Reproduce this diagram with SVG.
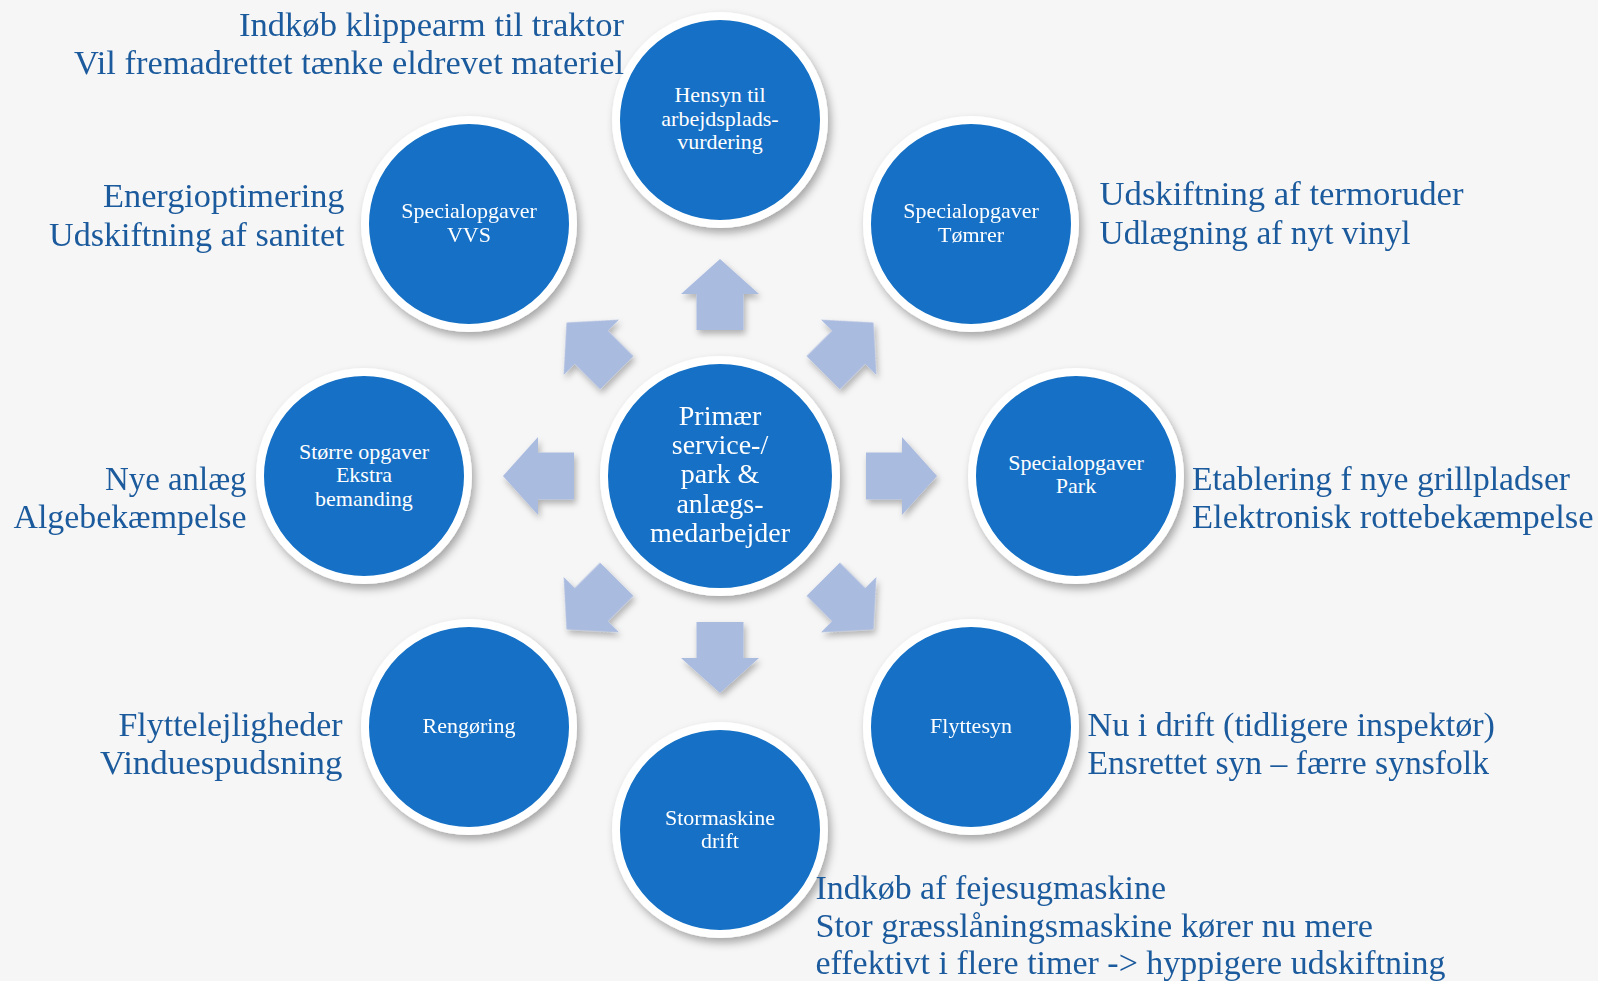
<svg xmlns="http://www.w3.org/2000/svg" width="1598" height="981" viewBox="0 0 1598 981">
  <style>
    .note { font-family: "Liberation Serif", "DejaVu Serif", serif; font-size: 33px; fill: #1B5A9C; }
    .end { text-anchor: end; }
    .lbl { font-family: "Liberation Serif", "DejaVu Serif", serif; font-size: 22px; fill: #FFFFFF; text-anchor: middle; }
    .hub { font-family: "Liberation Serif", "DejaVu Serif", serif; font-size: 28px; fill: #FFFFFF; text-anchor: middle; }
    .disc { fill: #1270C5; stroke: #FFFFFF; stroke-width: 8; }
    .arrow { fill: #AABBE0; }
  </style>
  <defs>
    <filter id="shade" x="-20%" y="-20%" width="150%" height="150%">
      <feDropShadow dx="3" dy="5" stdDeviation="4" flood-color="#000000" flood-opacity="0.32"/>
    </filter>
    <filter id="arrowShade" x="-10%" y="-10%" width="130%" height="130%">
      <feDropShadow dx="2" dy="4" stdDeviation="3" flood-color="#000000" flood-opacity="0.28"/>
    </filter>
    <!-- block arrow pointing up, hub centre at the origin -->
    <path id="blockArrow" d="M0,-217 L39,-182 L23.5,-182 L23.5,-146 L-23.5,-146 L-23.5,-182 L-39,-182 Z"/>
  </defs>

  <rect width="1598" height="981" fill="#F6F6F6"/>

  <!-- radiating arrows around the hub -->
  <g id="connectors" class="arrow" filter="url(#arrowShade)">
    <use href="#blockArrow" transform="translate(720,476)"/>
    <use href="#blockArrow" transform="translate(720,476) rotate(45)"/>
    <use href="#blockArrow" transform="translate(720,476) rotate(90)"/>
    <use href="#blockArrow" transform="translate(720,476) rotate(135)"/>
    <use href="#blockArrow" transform="translate(720,476) rotate(180)"/>
    <use href="#blockArrow" transform="translate(720,476) rotate(225)"/>
    <use href="#blockArrow" transform="translate(720,476) rotate(270)"/>
    <use href="#blockArrow" transform="translate(720,476) rotate(315)"/>
  </g>

  <!-- hub -->
  <g id="hub">
    <circle class="disc" cx="720" cy="476" r="116" filter="url(#shade)"/>
    <text class="hub" x="720" y="425">Primær</text>
    <text class="hub" x="720" y="454">service-/</text>
    <text class="hub" x="720" y="483">park &amp;</text>
    <text class="hub" x="720" y="513">anlægs-</text>
    <text class="hub" x="720" y="542">medarbejder</text>
  </g>

  <g id="node-hensyn">
    <circle class="disc" cx="720" cy="120" r="104" filter="url(#shade)"/>
    <text class="lbl" x="720" y="102">Hensyn til</text>
    <text class="lbl" x="720" y="125.5">arbejdsplads-</text>
    <text class="lbl" x="720" y="149">vurdering</text>
  </g>

  <g id="node-vvs">
    <circle class="disc" cx="469" cy="224" r="104" filter="url(#shade)"/>
    <text class="lbl" x="469" y="218">Specialopgaver</text>
    <text class="lbl" x="469" y="241.5">VVS</text>
  </g>

  <g id="node-toemrer">
    <circle class="disc" cx="971" cy="224" r="104" filter="url(#shade)"/>
    <text class="lbl" x="971" y="218">Specialopgaver</text>
    <text class="lbl" x="971" y="241.5">Tømrer</text>
  </g>

  <g id="node-stoerre">
    <circle class="disc" cx="364" cy="476" r="104" filter="url(#shade)"/>
    <text class="lbl" x="364" y="458.5">Større opgaver</text>
    <text class="lbl" x="364" y="482">Ekstra</text>
    <text class="lbl" x="364" y="505.5">bemanding</text>
  </g>

  <g id="node-park">
    <circle class="disc" cx="1076" cy="476" r="104" filter="url(#shade)"/>
    <text class="lbl" x="1076" y="470">Specialopgaver</text>
    <text class="lbl" x="1076" y="493">Park</text>
  </g>

  <g id="node-rengoering">
    <circle class="disc" cx="469" cy="727" r="104" filter="url(#shade)"/>
    <text class="lbl" x="469" y="733">Rengøring</text>
  </g>

  <g id="node-flyttesyn">
    <circle class="disc" cx="971" cy="727" r="104" filter="url(#shade)"/>
    <text class="lbl" x="971" y="733">Flyttesyn</text>
  </g>

  <g id="node-stormaskine">
    <circle class="disc" cx="720" cy="830" r="104" filter="url(#shade)"/>
    <text class="lbl" x="720" y="824.5">Stormaskine</text>
    <text class="lbl" x="720" y="848">drift</text>
  </g>

  <!-- notes beside each node -->
  <g id="notes">
    <text class="note end" x="624" y="36" textLength="385" lengthAdjust="spacingAndGlyphs">Indkøb klippearm til traktor</text>
    <text class="note end" x="624" y="74" textLength="550" lengthAdjust="spacingAndGlyphs">Vil fremadrettet tænke eldrevet materiel</text>

    <text class="note end" x="344.5" y="207" textLength="241.5" lengthAdjust="spacingAndGlyphs">Energioptimering</text>
    <text class="note end" x="344.5" y="245.5" textLength="295.5" lengthAdjust="spacingAndGlyphs">Udskiftning af sanitet</text>

    <text class="note" x="1099.5" y="205" textLength="364" lengthAdjust="spacingAndGlyphs">Udskiftning af termoruder</text>
    <text class="note" x="1099.5" y="243.5" textLength="311" lengthAdjust="spacingAndGlyphs">Udlægning af nyt vinyl</text>

    <text class="note end" x="246.5" y="490" textLength="141.5" lengthAdjust="spacingAndGlyphs">Nye anlæg</text>
    <text class="note end" x="246.5" y="528" textLength="233" lengthAdjust="spacingAndGlyphs">Algebekæmpelse</text>

    <text class="note" x="1192" y="490" textLength="378" lengthAdjust="spacingAndGlyphs">Etablering f nye grillpladser</text>
    <text class="note" x="1192" y="528" textLength="401.5" lengthAdjust="spacingAndGlyphs">Elektronisk rottebekæmpelse</text>

    <text class="note end" x="342.5" y="736" textLength="224" lengthAdjust="spacingAndGlyphs">Flyttelejligheder</text>
    <text class="note end" x="342.5" y="773.5" textLength="242.5" lengthAdjust="spacingAndGlyphs">Vinduespudsning</text>

    <text class="note" x="1087.5" y="736" textLength="407.5" lengthAdjust="spacingAndGlyphs">Nu i drift (tidligere inspektør)</text>
    <text class="note" x="1087.5" y="773.5" textLength="401.5" lengthAdjust="spacingAndGlyphs">Ensrettet syn – færre synsfolk</text>

    <text class="note" x="815.5" y="899" textLength="350.5" lengthAdjust="spacingAndGlyphs">Indkøb af fejesugmaskine</text>
    <text class="note" x="815.5" y="936.5" textLength="557.5" lengthAdjust="spacingAndGlyphs">Stor græsslåningsmaskine kører nu mere</text>
    <text class="note" x="815.5" y="974" textLength="630" lengthAdjust="spacingAndGlyphs">effektivt i flere timer -&gt; hyppigere udskiftning</text>
  </g>
</svg>
